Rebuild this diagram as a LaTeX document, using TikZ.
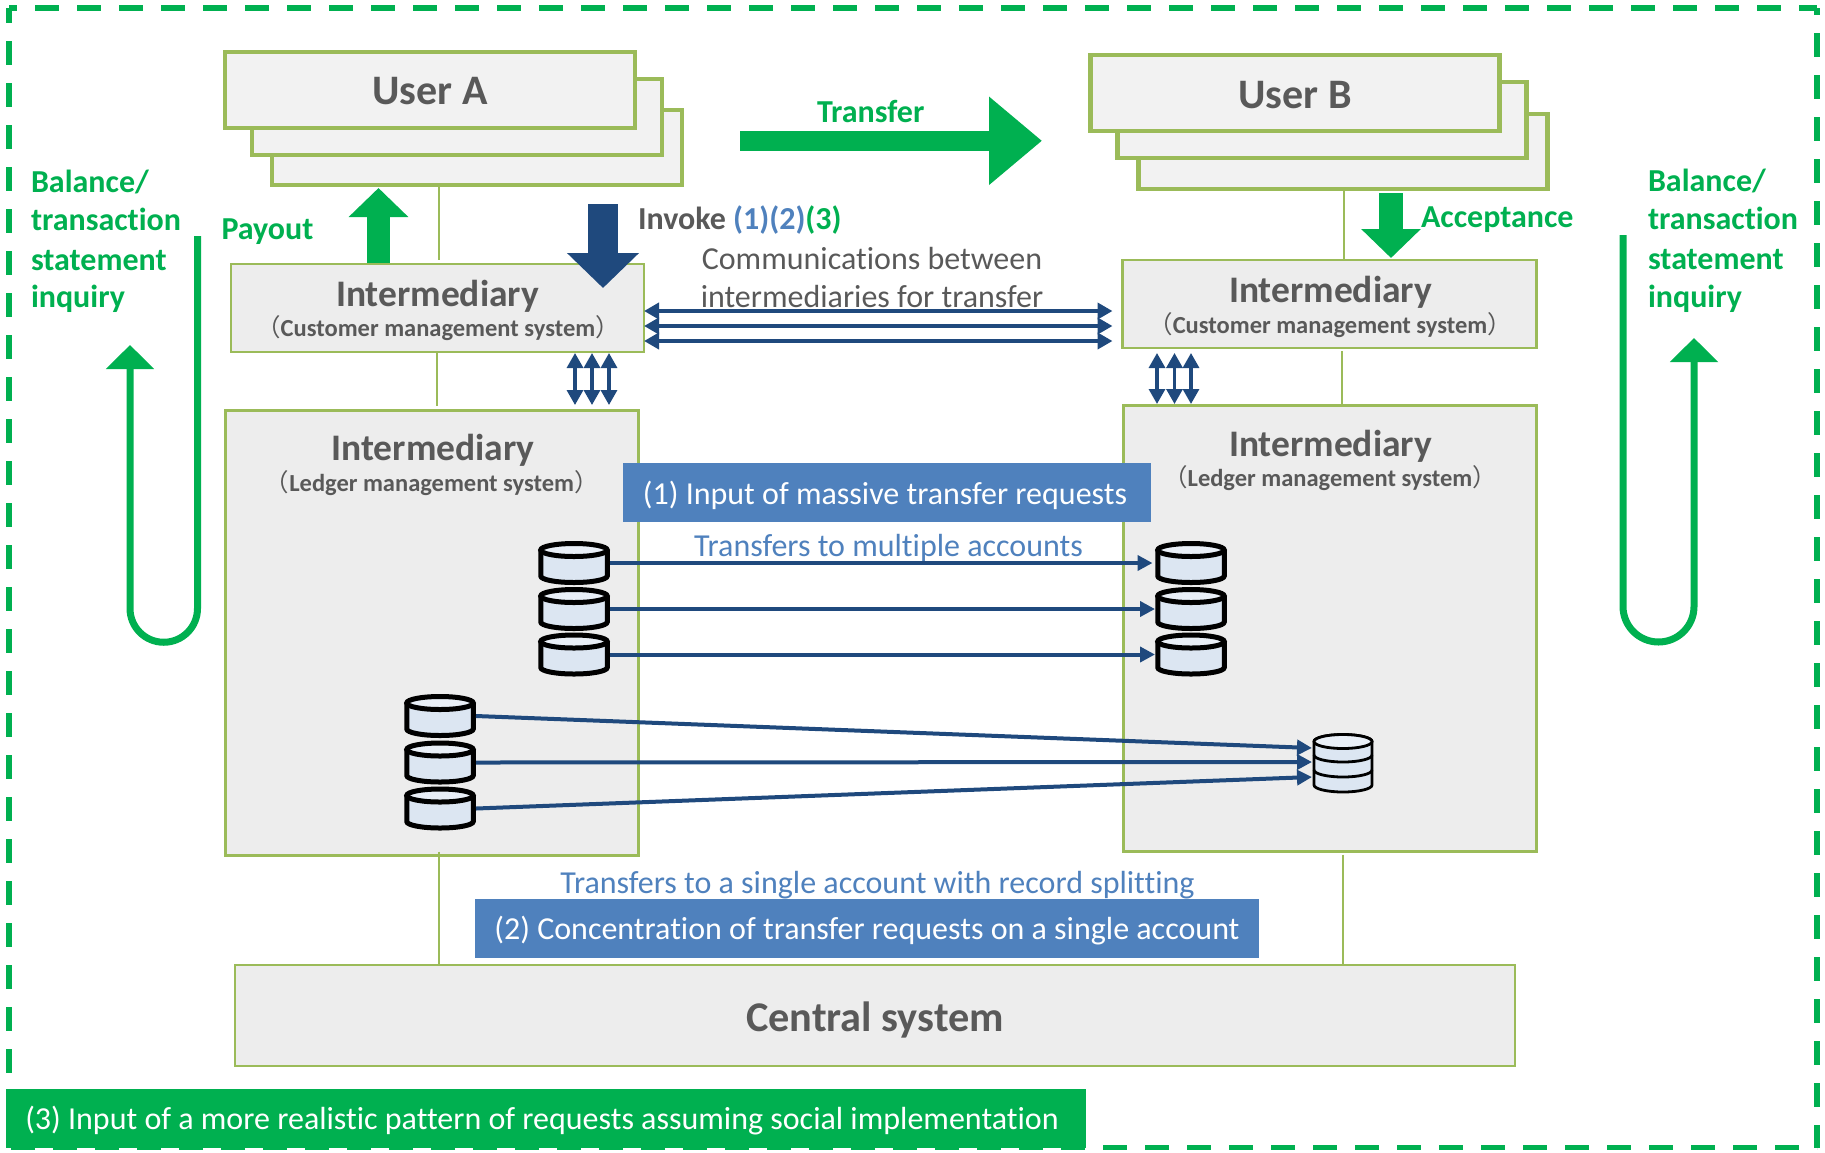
\documentclass[tikz,border=0pt]{standalone}
\usepackage{fontspec}
\usetikzlibrary{arrows.meta}
\setmainfont[Ligatures=NoCommon]{Carlito}
\newfontfamily\cjkp{Noto Sans CJK JP}
\newcommand\fs[1]{\fontsize{#1}{#1}\selectfont}
\definecolor{grn}{HTML}{00B050}
\definecolor{navy}{HTML}{1F497D}
\definecolor{olive}{HTML}{9BBB59}
\definecolor{steel}{HTML}{4F81BD}
\definecolor{txtgray}{HTML}{595959}
\definecolor{ufill}{HTML}{F2F2F2}
\definecolor{bfill}{HTML}{EDEDED}
\definecolor{cylf}{HTML}{DCE6F2}
\definecolor{cylt}{HTML}{E9EFF7}
\tikzset{
  ubox/.style={draw=olive,fill=ufill,line width=4.8pt,inner sep=0pt,outer sep=0pt},
  ibox/.style={draw=olive,fill=bfill,line width=2.5pt,inner sep=0pt,outer sep=0pt},
  txt/.style={inner sep=0pt,outer sep=0pt,anchor=base,text=txtgray},
  grtxt/.style={inner sep=0pt,outer sep=0pt,anchor=base west,text=grn},
  steeltxt/.style={inner sep=0pt,outer sep=0pt,anchor=base,text=steel},
  whitetxt/.style={inner sep=0pt,outer sep=0pt,anchor=base,text=white},
  thinline/.style={draw=olive,line width=2.2pt},
  framedash/.style={draw=grn,line width=5.5pt,dash pattern=on 24pt off 18pt},
  dbl/.style={navy,line width=4pt,{Triangle[length=15pt,width=16pt]}-{Triangle[length=15pt,width=16pt]}},
  dblv/.style={navy,line width=3.2pt,{Triangle[length=15pt,width=16pt]}-{Triangle[length=15pt,width=16pt]}},
  flow/.style={navy,line width=4pt,-{Triangle[length=15pt,width=15pt]}},
  uturn/.style={grn,line width=7pt,line cap=butt,-{Triangle[length=24pt,width=47pt]}},
}
\newcommand\subp[1]{{\cjkp\mdseries #1}}
\newcommand\dbcyl[3]{%
  \node[inner sep=0pt,outer sep=0pt,minimum width=72pt,minimum height=44pt] (#1) at (#2,#3) {};
  \path[fill=cylf] (#2-33.25,#3-13) -- (#2-33.25,#3+13) arc[x radius=33.25pt,y radius=6.5pt,start angle=180,end angle=360] -- (#2+33.25,#3-13) arc[x radius=33.25pt,y radius=6.5pt,start angle=0,end angle=180] -- cycle;
  \fill[cylt] (#2,#3-13) ellipse[x radius=33pt,y radius=6.3pt];
  \draw[black,line width=5pt] (#2,#3-13) ellipse[x radius=33.25pt,y radius=6.5pt];
  \draw[black,line width=5pt] (#2-33.25,#3-13) -- (#2-33.25,#3+13) arc[x radius=33.25pt,y radius=6.5pt,start angle=180,end angle=360] -- (#2+33.25,#3-13);
}
\begin{document}
\begin{tikzpicture}[x=1pt,y=-1pt]
\useasboundingbox (0,0) rectangle (1825,1152);
% outer dashed frame
\coordinate (fTL) at (9,8);
\coordinate (fTR) at (1817,8);
\coordinate (fBL) at (9,1147.5);
\coordinate (fBR) at (1817,1147.5);
\draw[framedash,dash phase=16] (fTL) -- (fTR);
\draw[framedash,dash phase=40] (fBL) -- (fBR);
\draw[framedash,dash phase=9] (fTL) -- (fBL);
\draw[framedash,dash phase=17] (fTR) -- (fBR);
% user A stack
\node[ubox,minimum width=410pt,minimum height=75pt] (uA3) at (477,147.5) {};
\node[ubox,minimum width=410pt,minimum height=76pt] (uA2) at (457,117) {};
\node[ubox,minimum width=410pt,minimum height=76pt] (uA1) at (430,90) {};
\node[txt,font=\fs{42}\bfseries] (uAt) at (430,104.5) {User A};
% user B stack
\node[ubox,minimum width=409pt,minimum height=75pt] (uB3) at (1342.7,151.5) {};
\node[ubox,minimum width=409.5pt,minimum height=76pt] (uB2) at (1322,120) {};
\node[ubox,minimum width=409.5pt,minimum height=76pt] (uB1) at (1295,93) {};
\node[txt,font=\fs{42}\bfseries] (uBt) at (1295,108) {User B};
% intermediaries
\node[ibox,minimum width=413pt,minimum height=88pt] (iA) at (437.5,308) {};
\node[ibox,minimum width=414pt,minimum height=88pt] (iB) at (1329.5,304) {};
\node[ibox,minimum width=413pt,minimum height=445pt] (lA) at (432,633) {};
\node[ibox,minimum width=413pt,minimum height=446pt] (lB) at (1330,628.5) {};
\node[ibox,minimum width=1280pt,minimum height=101pt] (cs) at (875,1015.5) {};
% thin links
\coordinate (xa) at (439,0);
\coordinate (xb) at (437,0);
\coordinate (xc) at (1344,0);
\coordinate (xd) at (1342,0);
\coordinate (xe) at (439,0);
\coordinate (xf) at (1343,0);
\draw[thinline,shorten >=4pt] (xa |- uA3.south) -- (xa |- iA.north);
\draw[thinline,shorten >=5pt] (xb |- iA.south) -- (xb |- lA.north);
\draw[thinline] (xc |- uB3.south) -- (xc |- iB.north);
\draw[thinline,shorten <=3pt] (xd |- iB.south) -- (xd |- lB.north);
\draw[thinline,shorten <=-4pt] (xe |- lA.south) -- (xe |- cs.north);
\draw[thinline,shorten <=3pt] (xf |- lB.south) -- (xf |- cs.north);
% box texts
\node[txt,font=\fs{37.5}\bfseries] (iAt) at (437.5,306) {Intermediary};
\node[txt,font=\fs{24.5}\bfseries] (iAs) at (438,336) {\subp{（}Customer management system\subp{）}};
\node[txt,font=\fs{37.5}\bfseries] (iBt) at (1330.5,302.5) {Intermediary};
\node[txt,font=\fs{24.5}\bfseries] (iBs) at (1330,333) {\subp{（}Customer management system\subp{）}};
\node[txt,font=\fs{37.5}\bfseries] (lAt) at (433,460.5) {Intermediary};
\node[txt,font=\fs{24.5}\bfseries] (lAs) at (431.7,491) {\subp{（}Ledger management system\subp{）}};
\node[txt,font=\fs{37.5}\bfseries] (lBt) at (1330.5,456) {Intermediary};
\node[txt,font=\fs{24.5}\bfseries] (lBs) at (1330,486) {\subp{（}Ledger management system\subp{）}};
\node[txt,font=\fs{42.3}\bfseries] (cst) at (875,1031) {Central system};
% block arrows
\coordinate (payS) at (378.5,263);
\coordinate (payE) at (378.5,188);
\draw[grn,line width=23pt,-{Triangle[length=29pt,width=58pt]}] (payS) -- (payE);
\coordinate (invS) at (603,204);
\coordinate (invE) at (603,288);
\draw[navy,line width=29.5pt,-{Triangle[length=35pt,width=70pt]}] (invS) -- (invE);
\coordinate (accS) at (1391,193);
\coordinate (accE) at (1391,258);
\draw[grn,line width=24pt,-{Triangle[length=29pt,width=58pt]}] (accS) -- (accE);
\coordinate (trS) at (740,140.8);
\coordinate (trE) at (1042,140.8);
\draw[grn,line width=20.3pt,-{Triangle[length=53pt,width=85pt]}] (trS) -- (trE);
\node[grtxt,font=\fs{32}\bfseries] (trt) at (817,122) {Transfer};
\node[grtxt,font=\fs{32}\bfseries] (payt) at (221.5,239) {Payout};
\node[grtxt,font=\fs{32}\bfseries] (acct) at (1421,227) {Acceptance};
\node[inner sep=0pt,outer sep=0pt,anchor=base west,font=\fs{32}\bfseries,text=txtgray] (invt) at (638,229) {Invoke \textcolor{steel}{(1)(2)}\textcolor{grn}{(3)}};
% balance texts
\node[grtxt,font=\fs{32}\bfseries] (bL1) at (31,192.5) {Balance/};
\node[grtxt,font=\fs{32}\bfseries] (bL2) at (31,230.5) {transaction};
\node[grtxt,font=\fs{32}\bfseries] (bL3) at (31,270) {statement};
\node[grtxt,font=\fs{32}\bfseries] (bL4) at (31,307.5) {inquiry};
\node[grtxt,font=\fs{32}\bfseries] (bR1) at (1648,191.5) {Balance/};
\node[grtxt,font=\fs{32}\bfseries] (bR2) at (1648,229.5) {transaction};
\node[grtxt,font=\fs{32}\bfseries] (bR3) at (1648,269) {statement};
\node[grtxt,font=\fs{32}\bfseries] (bR4) at (1648,307) {inquiry};
% u-turn arrows
\coordinate (uLs) at (197.5,236);
\coordinate (uLe) at (130,345);
\draw[uturn] (uLs) -- (197.5,608.5) arc[radius=33.75pt,start angle=0,end angle=-180] -- (uLe);
\coordinate (uRs) at (1623,235);
\coordinate (uRe) at (1694,338);
\draw[uturn] (uRs) -- (1623,606.5) arc[radius=35.5pt,start angle=180,end angle=360] -- (uRe);
% comm arrows
\node[txt,font=\fs{32}] (co1) at (872,269) {Communications between};
\node[txt,font=\fs{32}] (co2) at (872,307.5) {intermediaries for transfer};
\foreach \i/\y in {1/311,2/326,3/341}{
  \draw[dbl,shorten >=10pt] (iA.east |- 0,\y) -- (iB.west |- 0,\y);
}
\foreach \xx in {575,592,609}{
  \draw[dblv] (\xx,353) -- (\xx,405);
}
\foreach \xx in {1157,1174.5,1191}{
  \draw[dblv] (\xx,353) -- (\xx,404);
}
% banners
\node[fill=steel,minimum width=528pt,minimum height=59pt,inner sep=0pt,outer sep=0pt] (bn1) at (887,492.5) {};
\node[whitetxt,font=\fs{32}] (bn1t) at (885,504.5) {(1) Input of massive transfer requests};
\node[steeltxt,font=\fs{32}] (tr1) at (888.5,556) {Transfers to multiple accounts};
\node[steeltxt,font=\fs{32}] (tr2) at (877.5,893.5) {Transfers to a single account with record splitting};
\node[fill=steel,minimum width=784.5pt,minimum height=59pt,inner sep=0pt,outer sep=0pt] (bn2) at (867.2,928.5) {};
\node[whitetxt,font=\fs{32}] (bn2t) at (867,939.5) {(2) Concentration of transfer requests on a single account};
\node[fill=grn,minimum width=1080pt,minimum height=59pt,inner sep=0pt,outer sep=0pt] (bn3) at (546,1118.5) {};
\node[whitetxt,font=\fs{32}] (bn3t) at (542,1129.5) {(3) Input of a more realistic pattern of requests assuming social implementation};
% cylinders
\dbcyl{c1}{574}{563}
\dbcyl{c2}{574}{609}
\dbcyl{c3}{574}{654.5}
\dbcyl{d1}{1191}{563}
\dbcyl{d2}{1191}{609}
\dbcyl{d3}{1191}{654.5}
\dbcyl{c4}{440}{716}
\dbcyl{c5}{440}{762.5}
\dbcyl{c6}{440}{808.5}
\draw[flow,shorten >=2.5pt] (c1.east) -- (d1.west);
\draw[flow] (c2.east) -- (d2.west);
\draw[flow] (c3.east) -- (d3.west);
% small stacked db
\node[inner sep=0pt,outer sep=0pt,minimum width=62pt,minimum height=58pt] (db) at (1343,763) {};
\path[fill=cylf,draw=black,line width=2.8pt] (1314,741.5) -- (1314,785) arc[x radius=29pt,y radius=7pt,start angle=180,end angle=360] -- (1372,741.5) arc[x radius=29pt,y radius=7pt,start angle=0,end angle=180] -- cycle;
\draw[black,fill=cylt,line width=2.8pt] (1343,741.5) ellipse[x radius=29pt,y radius=7pt];
\draw[black,line width=2.8pt] (1314,755) arc[x radius=29pt,y radius=7pt,start angle=180,end angle=360];
\draw[black,line width=2.8pt] (1314,770) arc[x radius=29pt,y radius=7pt,start angle=180,end angle=360];
\coordinate (dbi1) at (1312,748);
\coordinate (dbi2) at (1312,762);
\coordinate (dbi3) at (1312,777);
\draw[flow] (c4.east) -- (dbi1);
\draw[flow] (c5.east) -- (dbi2);
\draw[flow] (c6.east) -- (dbi3);
\end{tikzpicture}
\end{document}
